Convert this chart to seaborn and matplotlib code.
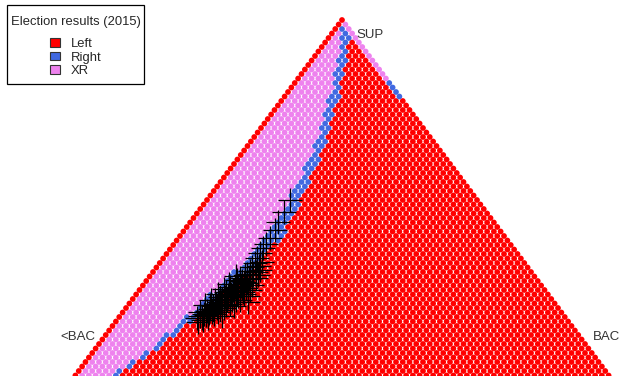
import numpy as np
import pandas as pd
import matplotlib
matplotlib.use("Agg")
import matplotlib.pyplot as plt
from matplotlib.patches import Patch, Rectangle
import seaborn as sns

# ---- data -------------------------------------------------------------
title = "Election results (2015)"
classes = ["Left", "Right", "XR"]
class_colors = ["#FF0000", "#4169E1", "#EE82EE"]
corner_labels = ["SUP", "<BAC", "BAC"]

# classification boundaries (share of BAC at given share of SUP)
bound_sup = [0.0, 0.05, 0.10, 0.20, 0.30, 0.40, 0.50, 0.60, 0.70, 0.80, 0.90, 0.95, 1.00]
xr_until = [0.062, 0.086, 0.106, 0.128, 0.150, 0.158, 0.152, 0.135, 0.110, 0.080, 0.044, 0.025, 0.000]
right_until = [0.070, 0.096, 0.120, 0.150, 0.178, 0.190, 0.175, 0.154, 0.128, 0.096, 0.058, 0.038, 0.012]
# right edge (no <BAC) : XR above this SUP share, Right in between, Left below
edge_xr_from = 0.83
edge_right_from = 0.78

# observed communes (SUP share, BAC share)
obs_sup = [0.500, 0.467, 0.439, 0.417, 0.394, 0.378, 0.367, 0.353, 0.339, 0.325,
           0.314, 0.303, 0.294, 0.281, 0.275, 0.267, 0.278, 0.258, 0.250, 0.244,
           0.236, 0.231, 0.225, 0.217, 0.211, 0.206, 0.197, 0.192, 0.183, 0.178,
           0.172, 0.244, 0.233, 0.233, 0.222, 0.208, 0.194, 0.183, 0.283, 0.264,
           0.256, 0.306, 0.289, 0.267, 0.253, 0.239, 0.222, 0.208, 0.222, 0.206,
           0.178, 0.167, 0.172, 0.189, 0.200, 0.211, 0.222, 0.233, 0.244, 0.256,
           0.269, 0.283, 0.292, 0.283, 0.258, 0.231, 0.208, 0.189, 0.222, 0.244,
           0.292, 0.217, 0.161, 0.172, 0.181, 0.186, 0.194, 0.206, 0.217, 0.222,
           0.231, 0.239, 0.247, 0.256, 0.261, 0.272, 0.281, 0.292, 0.300, 0.317,
           0.222, 0.211, 0.200, 0.189, 0.239, 0.250, 0.328]
obs_bac = [0.154, 0.159, 0.162, 0.168, 0.169, 0.170, 0.170, 0.172, 0.173, 0.176,
           0.176, 0.178, 0.177, 0.180, 0.177, 0.178, 0.167, 0.173, 0.173, 0.170,
           0.171, 0.168, 0.165, 0.164, 0.161, 0.158, 0.157, 0.154, 0.153, 0.148,
           0.145, 0.194, 0.209, 0.191, 0.185, 0.181, 0.177, 0.171, 0.199, 0.201,
           0.194, 0.195, 0.159, 0.157, 0.155, 0.151, 0.146, 0.142, 0.200, 0.197,
           0.189, 0.159, 0.166, 0.165, 0.169, 0.172, 0.176, 0.180, 0.183, 0.187,
           0.189, 0.192, 0.175, 0.169, 0.163, 0.159, 0.151, 0.143, 0.154, 0.163,
           0.199, 0.218, 0.153, 0.155, 0.158, 0.161, 0.164, 0.166, 0.168, 0.170,
           0.174, 0.175, 0.176, 0.180, 0.182, 0.182, 0.188, 0.189, 0.191, 0.188,
           0.193, 0.187, 0.182, 0.176, 0.199, 0.205, 0.188]

# ---- grid of compositions --------------------------------------------
N = 80
rows = []
for k in range(N + 1):
    a = k / N
    lo = np.interp(a, bound_sup, xr_until)
    hi = np.interp(a, bound_sup, right_until)
    for j in range(N - k + 1):
        c = j / N
        b = 1 - a - c
        if j == 0:
            cl = "Left"
        elif j == N - k:
            if a > edge_xr_from:
                cl = "XR"
            elif a > edge_right_from:
                cl = "Right"
            else:
                cl = "Left"
        elif c < lo:
            cl = "XR"
        elif c < hi:
            cl = "Right"
        else:
            cl = "Left"
        rows.append((a, b, c, cl))
grid = pd.DataFrame(rows, columns=["SUP", "lowBAC", "BAC", "cls"])
grid["X"] = grid["BAC"] + grid["SUP"] / 2
grid["Y"] = grid["SUP"]

obs = pd.DataFrame({"SUP": obs_sup, "BAC": obs_bac})
obs["X"] = obs["BAC"] + obs["SUP"] / 2
obs["Y"] = obs["SUP"]

# ---- plot -------------------------------------------------------------
sns.set_style("white")
plt.rcParams["font.family"] = ["Liberation Sans", "DejaVu Sans"]

W, H = 621, 376
fig = plt.figure(figsize=(W / 100, H / 100), dpi=100)
ax = fig.add_axes([0, 0, 1, 1])
pal = dict(zip(classes, class_colors))
sns.scatterplot(data=grid, x="X", y="Y", hue="cls", palette=pal, s=17,
                linewidth=0, legend=False, ax=ax)
sns.scatterplot(data=obs, x="X", y="Y", marker="+", color="black", s=300,
                linewidth=0.9, legend=False, ax=ax)

ax.set_xlim(-72 / 540, 549 / 540)
ax.set_ylim(4 / 360, 380 / 360)
ax.axis("off")

tc = "#333333"
ax.text(0.5 + 28 / 540, 1 - 15 / 360, corner_labels[0], ha="center", va="center",
        fontsize=9.5, color=tc)
ax.text(6 / 540, 43 / 360, corner_labels[1], ha="center", va="center",
        fontsize=9.5, color=tc)
ax.text(534 / 540, 43 / 360, corner_labels[2], ha="center", va="center",
        fontsize=9.5, color=tc)

# legend box
fig.patches.append(Rectangle((7 / W, 1 - 84 / H), 137 / W, 79 / H,
                             transform=fig.transFigure, facecolor="white",
                             edgecolor="black", linewidth=0.9, zorder=5))
handles = [Patch(facecolor=col, edgecolor="#333333", linewidth=0.8, label=lab)
           for lab, col in zip(classes, class_colors)]
leg = fig.legend(handles=handles, title=title, loc="upper center",
                 bbox_to_anchor=(75.5 / W, 1 - 16.5 / H), fontsize=9.4,
                 title_fontsize=9.4, frameon=False, handlelength=0.8,
                 handleheight=0.65, handletextpad=0.8, labelspacing=0.1,
                 borderpad=0, alignment="center", borderaxespad=0)
leg.set_zorder(6)
leg._legend_box.sep = 7

fig.savefig("out.png", dpi=100)
